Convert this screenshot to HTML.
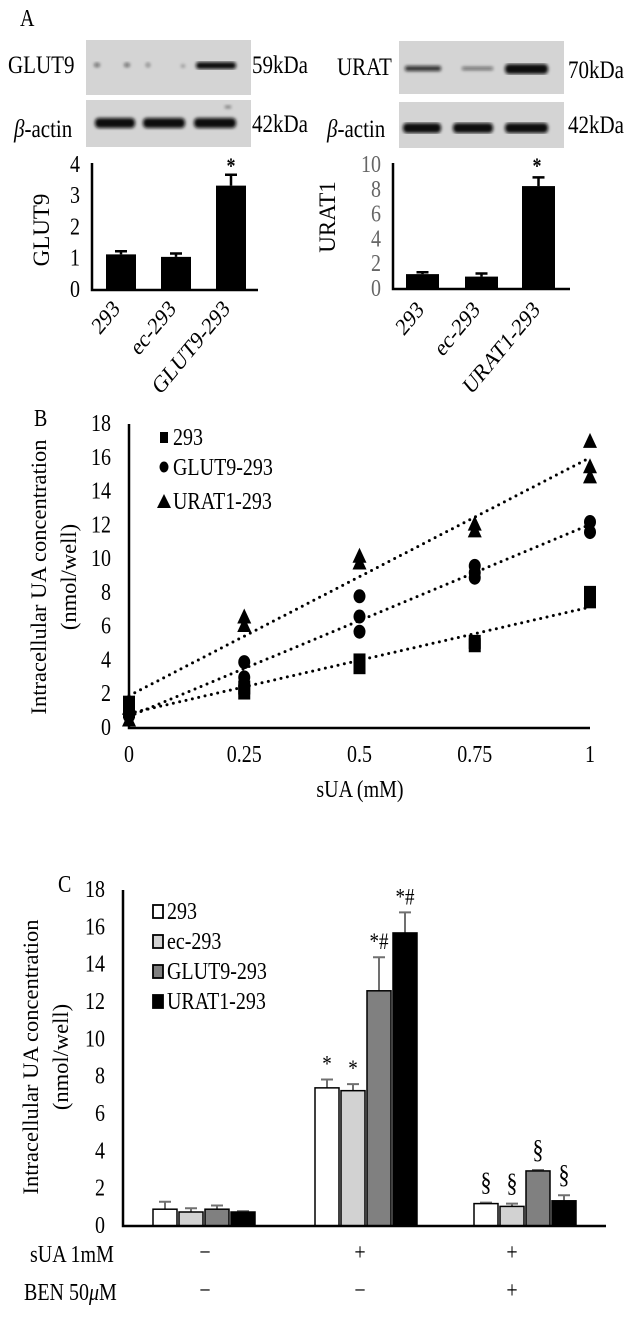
<!DOCTYPE html>
<html><head><meta charset="utf-8">
<style>
body{margin:0;background:#fff}
svg{display:block;font-family:"Liberation Serif",serif}
</style></head>
<body>
<svg id="fig" width="628" height="1334" viewBox="0 0 628 1334">
<defs>
<filter id="blur"><feGaussianBlur stdDeviation="1.6"/></filter>
</defs>
<text x="20" y="26" font-size="20">A</text>
<g>
<rect x="86" y="40" width="165" height="55" fill="#d4d4d4"/>
<g filter="url(#blur)" fill="#111">
<ellipse cx="97" cy="65" rx="3" ry="2" opacity="0.6"/>
<ellipse cx="127" cy="65" rx="3" ry="2" opacity="0.6"/>
<ellipse cx="148" cy="65" rx="2" ry="2" opacity="0.5"/>
<ellipse cx="183" cy="66" rx="2" ry="1.5" opacity="0.4"/>
<rect x="196" y="62" width="40" height="7" rx="3"/>
</g></g>
<g>
<rect x="86" y="100" width="165" height="47" fill="#d4d4d4"/>
<g filter="url(#blur)" fill="#0a0a0a">
<rect x="95" y="118" width="40" height="10" rx="4"/>
<rect x="143" y="118" width="42" height="10" rx="4"/>
<rect x="194" y="118" width="42" height="10" rx="4"/>
<rect x="225" y="106" width="6" height="2" opacity="0.6"/>
</g></g>
<text x="8" y="73" font-size="21">GLUT9</text>
<text x="252" y="73" font-size="21">59kDa</text>
<text x="14" y="137" font-size="21"><tspan font-style="italic">β</tspan>-actin</text>
<text x="252" y="132" font-size="21">42kDa</text>

<g>
<rect x="399" y="41" width="165" height="53" fill="#d4d4d4"/>
<g filter="url(#blur)" fill="#111">
<rect x="405" y="66" width="36" height="5" rx="2" opacity="0.85"/>
<rect x="462" y="67" width="31" height="3" rx="1" opacity="0.6"/>
<rect x="505" y="64" width="43" height="10" rx="4"/>
</g></g>
<g>
<rect x="399" y="102" width="165" height="46" fill="#d4d4d4"/>
<g filter="url(#blur)" fill="#0a0a0a">
<rect x="403" y="123" width="38" height="10" rx="4"/>
<rect x="453" y="123" width="40" height="10" rx="4"/>
<rect x="505" y="123" width="43" height="10" rx="4"/>
</g></g>
<text x="337" y="75" font-size="21">URAT</text>
<text x="568" y="78" font-size="21">70kDa</text>
<text x="327" y="137" font-size="21"><tspan font-style="italic">β</tspan>-actin</text>
<text x="568" y="133" font-size="21">42kDa</text>

<g id="a1"></g><g id="a2"></g><g id="b"></g><g id="c"></g>

<text x="34" y="426" font-size="20">B</text>
<text x="58" y="892" font-size="20">C</text>
</svg>
<script>
// ---------- data ----------
const a1Cats = ["293","ec-293","GLUT9-293"];
const a1Vals = [1.14,1.06,3.34];
const a1Errs = [1.24,1.17,3.69];
const a1Ticks = [0,1,2,3,4];
const a2Cats = ["293","ec-293","URAT1-293"];
const a2Vals = [1.2,1.0,8.3];
const a2Errs = [1.35,1.25,9.0];
const a2Ticks = [0,2,4,6,8,10];

const bXTicks = [0,0.25,0.5,0.75,1];
const bXLabels = ["0","0.25","0.5","0.75","1"];
const bYTicks = [0,2,4,6,8,10,12,14,16,18];
const b293X = [0,0,0.25,0.25,0.5,0.5,0.75,0.75,1,1];
const b293Y = [1.5,1.0,2.1,2.4,3.6,4.0,4.9,5.1,7.5,8.0];
const bGlutX = [0,0,0.25,0.25,0.25,0.5,0.5,0.5,0.75,0.75,0.75,1,1];
const bGlutY = [0.7,1.0,3.9,3.0,2.5,7.8,6.6,5.7,9.6,9.2,8.9,12.2,11.6];
const bUratX = [0,0,0.25,0.25,0.5,0.5,0.75,0.75,1,1,1];
const bUratY = [0.5,1.2,6.6,6.1,10.2,9.8,12.1,11.7,17.0,15.5,14.9];

const cSeries = ["293","ec-293","GLUT9-293","URAT1-293"];
const cColors = ["#ffffff","#d2d2d2","#808080","#000000"];
const cVals = [[0.9,7.4,1.2],[0.75,7.25,1.05],[0.9,12.6,2.95],[0.75,15.7,1.35]];
const cErrs = [[1.3,7.85,1.25],[0.95,7.6,1.2],[1.1,14.4,3.0],[0.8,16.8,1.65]];
const cMarks = [["","*","§"],["","*","§"],["","*#","§"],["","*#","§"]];
const cTicks = [0,2,4,6,8,10,12,14,16,18];
const cSua = ["−","+","+"];
const cBen = ["−","−","+"];

// ---------- helpers ----------
const NS="http://www.w3.org/2000/svg";
function mk(parent,tag,attrs,text){const e=document.createElementNS(NS,tag);for(const k in attrs)e.setAttribute(k,attrs[k]);if(text!==undefined)e.textContent=text;parent.appendChild(e);return e;}

// ---------- Panel A small bar charts ----------
function smallBar(gid,cats,vals,errs,ticks,cfg){
  const g=document.getElementById(gid);
  const y=v=>cfg.y0-(v-ticks[0])/(ticks[ticks.length-1]-ticks[0])*(cfg.y0-cfg.y1);
  ticks.forEach(t=>{
    const tl=mk(g,"text",{x:cfg.ax-12,y:y(t)+7,"font-size":20,"text-anchor":"end",fill:cfg.tickColor},String(t));
    
    
  });
  cats.forEach((c,i)=>{
    const x=cfg.barX[i];
    const eb=mk(g,"path",{d:`M${x+cfg.bw/2} ${y(vals[i])}V${y(errs[i])}M${x+cfg.bw/2-6} ${y(errs[i])}H${x+cfg.bw/2+6}`,stroke:"#000","stroke-width":2.5,fill:"none"});
    
    
    const r=mk(g,"rect",{x:x,y:y(vals[i]),width:cfg.bw,height:y(0)-y(vals[i]),fill:"#000"});
    
    
    const lx=cfg.labEnd[i];
    const t=mk(g,"text",{x:lx,y:cfg.labY,"font-size":20,"text-anchor":"end",transform:`rotate(-45 ${lx} ${cfg.labY})`},c);
    
    
  });
  const ax=mk(g,"path",{d:`M${cfg.ax} ${cfg.y1-2}V${cfg.y0}H${cfg.xEnd}`,stroke:"#000","stroke-width":2.5,fill:"none"});
  
  
  const st=mk(g,"text",{x:cfg.starX,y:cfg.y1+8,"font-size":18,"text-anchor":"middle","font-weight":"bold"},"*");
  
  
  const yl=mk(g,"text",{x:cfg.ylx,y:cfg.yly,"font-size":23,"text-anchor":"middle",transform:`rotate(-90 ${cfg.ylx} ${cfg.yly})`},cfg.ylabel);
  
  
}
smallBar("a1",a1Cats,a1Vals,a1Errs,a1Ticks,{ax:92,y0:290,y1:165,xEnd:258,bw:30,barX:[106,161,216],labEnd:[121,177,231],labY:310,starX:231,ylx:49,yly:230,ylabel:"GLUT9",tickColor:"#000"});
smallBar("a2",a2Cats,a2Vals,a2Errs,a2Ticks,{ax:393,y0:289,y1:165,xEnd:570,bw:33,barX:[406,465,522],labEnd:[425,481,541],labY:311,starX:537,ylx:335,yly:217,ylabel:"URAT1",tickColor:"#666"});

// ---------- Panel B scatter ----------
(function(){
  const g=document.getElementById("b");
  const X0=129,X1=590,Y0=728,Y1=424;
  const x=v=>X0+v*(X1-X0);
  const y=v=>Y0-v/18*(Y0-Y1);
  bYTicks.forEach(t=>{
    const tl=mk(g,"text",{x:111,y:y(t)+7,"font-size":20,"text-anchor":"end"},String(t));
    
    
  });
  bXTicks.forEach((t,i)=>{
    const tl=mk(g,"text",{x:x(t),y:762,"font-size":20,"text-anchor":"middle"},bXLabels[i]);
    
    
  });
  function fit(xs,ys){const n=xs.length;let sx=0,sy=0,sxx=0,sxy=0;for(let i=0;i<n;i++){sx+=xs[i];sy+=ys[i];sxx+=xs[i]*xs[i];sxy+=xs[i]*ys[i];}const m=(n*sxy-sx*sy)/(n*sxx-sx*sx);return [m,(sy-m*sx)/n];}
  const series=[[b293X,b293Y,"square","293"],[bGlutX,bGlutY,"circle","GLUT9-293"],[bUratX,bUratY,"triangle","URAT1-293"]];
  series.forEach(s=>{
    const [m,b]=fit(s[0],s[1]);
    const tl=mk(g,"line",{x1:x(0),y1:y(b),x2:x(1),y2:y(m+b),stroke:"#000","stroke-width":3,"stroke-dasharray":"0 6.5","stroke-linecap":"round"});
    
    
  });
  function marker(shape,cx,cy,name){
    let e;
    if(shape==="square")e=mk(g,"rect",{x:cx-6,y:cy-7,width:12,height:14,fill:"#000"});
    else if(shape==="circle")e=mk(g,"ellipse",{cx:cx,cy:cy,rx:6,ry:7,fill:"#000"});
    else e=mk(g,"path",{d:`M${cx} ${cy-8}L${cx+7} ${cy+7}L${cx-7} ${cy+7}Z`,fill:"#000"});
    
    
  }
  series.forEach(s=>{s[0].forEach((xv,i)=>marker(s[2],x(xv),y(s[1][i]),'point-'+s[3]));});
  const ax=mk(g,"path",{d:`M${X0} ${Y1}V${Y0}H${X1}`,stroke:"#000","stroke-width":2.5,fill:"none"});
  
  
  const ly=[438,468,502];
  series.forEach((s,i)=>{
    const sh=s[2]; const cx=164, cy=ly[i];
    let e;
    if(sh==="square")e=mk(g,"rect",{x:cx-4,y:cy-6,width:8,height:11,fill:"#000"});
    else if(sh==="circle")e=mk(g,"ellipse",{cx:cx,cy:cy-1,rx:4.5,ry:5.5,fill:"#000"});
    else e=mk(g,"path",{d:`M${cx} ${cy-8}L${cx+7} ${cy+6}L${cx-7} ${cy+6}Z`,fill:"#000"});
    
    
    const t=mk(g,"text",{x:173,y:cy+7,"font-size":20},s[3]);
    
    
  });
  const xt=mk(g,"text",{x:360,y:797,"font-size":20,"text-anchor":"middle"},"sUA (mM)");
  
  
  const yt1=mk(g,"text",{x:46,y:577,"font-size":22.5,"text-anchor":"middle",transform:"rotate(-90 46 577)"},"Intracellular UA concentration");
  
  
  const yt2=mk(g,"text",{x:76,y:577,"font-size":22.5,"text-anchor":"middle",transform:"rotate(-90 76 577)"},"(nmol/well)");
  
  
})();

// ---------- Panel C grouped bars ----------
(function(){
  const g=document.getElementById("c");
  const X0=123,X1=606,Y0=1226,Y1=890;
  const y=v=>Y0-v/18*(Y0-Y1);
  const groupStart=[153,315,474], bw=24, step=26;
  cTicks.forEach(t=>{
    const tl=mk(g,"text",{x:105,y:y(t)+7,"font-size":20,"text-anchor":"end"},String(t));
    
    
  });
  cSeries.forEach((s,si)=>{
    cVals[si].forEach((v,gi)=>{
      const bx=groupStart[gi]+si*step, cx=bx+bw/2;
      const eb=mk(g,"path",{d:`M${cx} ${y(v)}V${y(cErrs[si][gi])}M${cx-6} ${y(cErrs[si][gi])}H${cx+6}`,stroke:"#707070","stroke-width":2,fill:"none"});
      
      
      const r=mk(g,"rect",{x:bx,y:y(v),width:bw,height:y(0)-y(v),fill:cColors[si],stroke:"#000","stroke-width":1.5});
      
      
      const mtxt=cMarks[si][gi];
      if(mtxt){
        const t=mk(g,"text",{x:cx,y:y(cErrs[si][gi])-(mtxt==="§"?12:8),"font-size":mtxt==="§"?22:19,"text-anchor":"middle"},mtxt);
        
        
      }
    });
  });
  const ax=mk(g,"path",{d:`M${X0} ${Y1}V${Y0}H${X1}`,stroke:"#000","stroke-width":2.5,fill:"none"});
  
  
  const ly=[912,942,972,1002];
  cSeries.forEach((s,i)=>{
    const r=mk(g,"rect",{x:153,y:ly[i]-7,width:10,height:13,fill:cColors[i],stroke:"#000","stroke-width":1.8});
    
    
    const t=mk(g,"text",{x:167,y:ly[i]+7,"font-size":20},s);
    
    
  });
  const lab1=mk(g,"text",{x:30,y:1262,"font-size":20},"sUA 1mM");
  
  
  const lab2=mk(g,"text",{x:24,y:1300,"font-size":20},"BEN 50");
  
  
  const mu=mk(lab2,"tspan",{"font-style":"italic"},"μ");
  
  
  mk(lab2,"tspan",{},"M");
  const cxs=[205,360,512];
  cSua.forEach((s,i)=>{
    const t=mk(g,"text",{x:cxs[i],y:1260,"font-size":20,"text-anchor":"middle"},s);
    
    
  });
  cBen.forEach((s,i)=>{
    const t=mk(g,"text",{x:cxs[i],y:1298,"font-size":20,"text-anchor":"middle"},s);
    
    
  });
  const yt1=mk(g,"text",{x:38,y:1057,"font-size":22.5,"text-anchor":"middle",transform:"rotate(-90 38 1057)"},"Intracellular UA concentration");
  
  
  const yt2=mk(g,"text",{x:68,y:1057,"font-size":22.5,"text-anchor":"middle",transform:"rotate(-90 68 1057)"},"(nmol/well)");
  
  
})();

// ---------- vertical stretch of horizontal/diagonal text (reference glyphs are taller than wide) ----------
(function(){
  const SY=1.21;
  document.querySelectorAll('#fig text').forEach(t=>{
    const tr=t.getAttribute('transform')||'';
    if(tr.indexOf('rotate(-90')===0)return;
    const ay=parseFloat(t.getAttribute('y'));
    const w=document.createElementNS(NS,'g');
    w.setAttribute('transform',`translate(0 ${ay}) scale(1 ${SY}) translate(0 ${-ay})`);
    t.parentNode.insertBefore(w,t);
    w.appendChild(t);
  });
})();
</script>
</body></html>
